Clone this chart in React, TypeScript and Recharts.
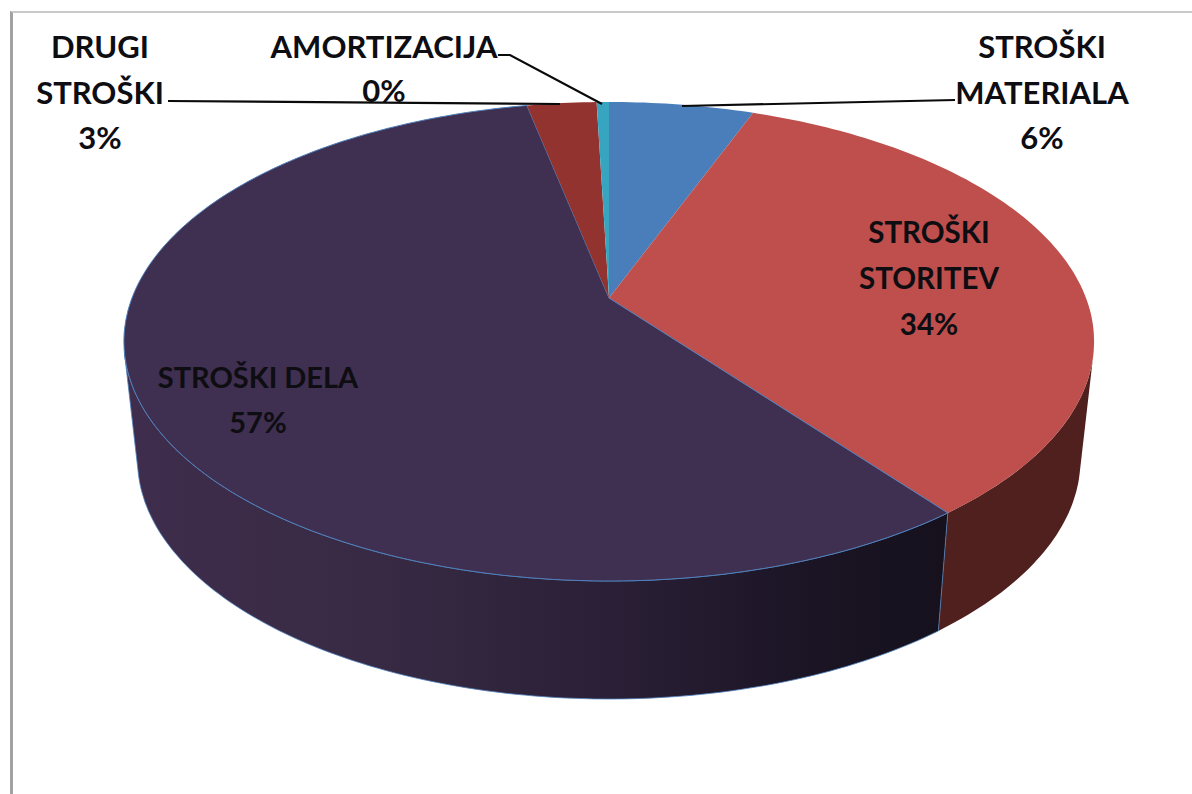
import React from "react";
import { PieChart, Pie } from "recharts";

const categories = ["STROŠKI MATERIALA", "STROŠKI STORITEV", "STROŠKI DELA", "DRUGI STROŠKI", "AMORTIZACIJA"];
const values = [5.75, 33.85, 57.15, 2.76, 0.49];
const topColors = ["#4a7ebb", "#be4f4c", "#3f2f50", "#93332f", "#37a5c0"];
const wallColors = ["#2b4a70", "#4f201e", "url(#delaWall)", "#4f201e", "#1f6070"];
const labelLines = [["STROŠKI", "MATERIALA"], ["STROŠKI", "STORITEV"], ["STROŠKI DELA"], ["DRUGI", "STROŠKI"], ["AMORTIZACIJA"]];

const W = 1192;
const H = 794;
const APEX = { x: 609, y: 298 };
const K = -0.1816;
const A = 231.6;
const B = 477;
const WALL_SCALE = 0.972;
const WALL_DROP = 118;
const FRONT_FROM = 103;
const FRONT_TO = 257;
const EDGE = "#4f81bd";

const rim = (t: number) => {
  const r = (t * Math.PI) / 180;
  const x = Math.sin(r);
  const y = -Math.cos(r);
  const d = 1 + K * y;
  return { x: APEX.x + (B * x) / d, y: APEX.y + (A * y) / d };
};
const lowRim = (t: number) => {
  const p = rim(t);
  return { x: APEX.x + (p.x - APEX.x) * WALL_SCALE, y: p.y + WALL_DROP };
};
const sampleAngles = (a: number, b: number) => {
  const out: number[] = [];
  for (let t = a; t < b; t += 1) out.push(t);
  out.push(b);
  return out;
};
const toPath = (pts: { x: number; y: number }[]) =>
  "M" + pts.map((p) => `${p.x.toFixed(1)},${p.y.toFixed(1)}`).join("L") + "Z";

const Slice = (props: any) => {
  const { startAngle, endAngle, index } = props;
  const t1 = 90 - startAngle;
  const t2 = 90 - endAngle;
  const top = [APEX, ...sampleAngles(t1, t2).map(rim)];
  const f1 = Math.max(t1, FRONT_FROM);
  const f2 = Math.min(t2, FRONT_TO);
  const edged = index === 2;
  return (
    <g>
      {index === 2 && (
        <defs>
          <linearGradient id="delaWall" gradientUnits="userSpaceOnUse" x1="130" y1="0" x2="940" y2="0">
            <stop offset="0" stopColor="#3e2d4c" />
            <stop offset="0.3" stopColor="#382a44" />
            <stop offset="0.6" stopColor="#2a1f36" />
            <stop offset="0.85" stopColor="#1a1424" />
            <stop offset="1" stopColor="#16111d" />
          </linearGradient>
        </defs>
      )}
      {f1 < f2 && (
        <path
          d={toPath([...sampleAngles(f1, f2).map(rim), ...sampleAngles(f1, f2).reverse().map(lowRim)])}
          fill={wallColors[index]}
          stroke={edged ? EDGE : "none"}
          strokeWidth={edged ? 0.8 : 0}
        />
      )}
      <path d={toPath(top)} fill={topColors[index]} stroke={edged ? EDGE : "none"} strokeWidth={edged ? 1 : 0} />
    </g>
  );
};

const layout = [
  { x: 1042, y: 58, step: 45.5, size: 31, leader: [[682, 106], [955, 100]] },
  { x: 929, y: 243, step: 46, size: 29.5, leader: null },
  { x: 258, y: 388, step: 45, size: 29, leader: null },
  { x: 100, y: 58, step: 45.5, size: 31, leader: [[168, 101], [560, 104]] },
  { x: 384, y: 58, step: 43.5, size: 31, leader: [[498, 55], [510, 55], [602, 104]] },
];

const Label = (props: any) => {
  const { index } = props;
  const spot = layout[index];
  const lines = [...labelLines[index], `${Math.round(values[index])}%`];
  return (
    <g>
      {spot.leader && (
        <polyline points={spot.leader.map((p) => p.join(",")).join(" ")} fill="none" stroke="#0a0a0a" strokeWidth={2.2} />
      )}
      {lines.map((s, i) => (
        <text
          key={i}
          x={spot.x}
          y={spot.y + i * spot.step}
          textAnchor="middle"
          fontFamily="Lato, sans-serif"
          fontWeight={700}
          fontSize={spot.size}
          fill="#0d0d12"
        >
          {s}
        </text>
      ))}
    </g>
  );
};

const data = categories.map((name, i) => ({ name, value: values[i] }));

export default function App() {
  return (
    <div style={{ position: "absolute", left: 0, top: 0, width: W, height: H, background: "#fff", overflow: "hidden" }}>
      <div style={{ position: "absolute", left: 10, top: 11, width: W, height: H, borderTop: "2px solid #c9c9c9", borderLeft: "3px solid #a2a2a2" }} />
      <div style={{ position: "absolute", left: 0, top: 0 }}>
        <PieChart width={W} height={H} margin={{ top: 0, right: 0, bottom: 0, left: 0 }}>
          <Pie
            data={data}
            dataKey="value"
            nameKey="name"
            cx={APEX.x}
            cy={APEX.y}
            innerRadius={0}
            outerRadius={200}
            startAngle={90}
            endAngle={-270}
            stroke="none"
            shape={Slice}
            label={Label}
            labelLine={false}
            isAnimationActive={false}
          />
        </PieChart>
      </div>
    </div>
  );
}
